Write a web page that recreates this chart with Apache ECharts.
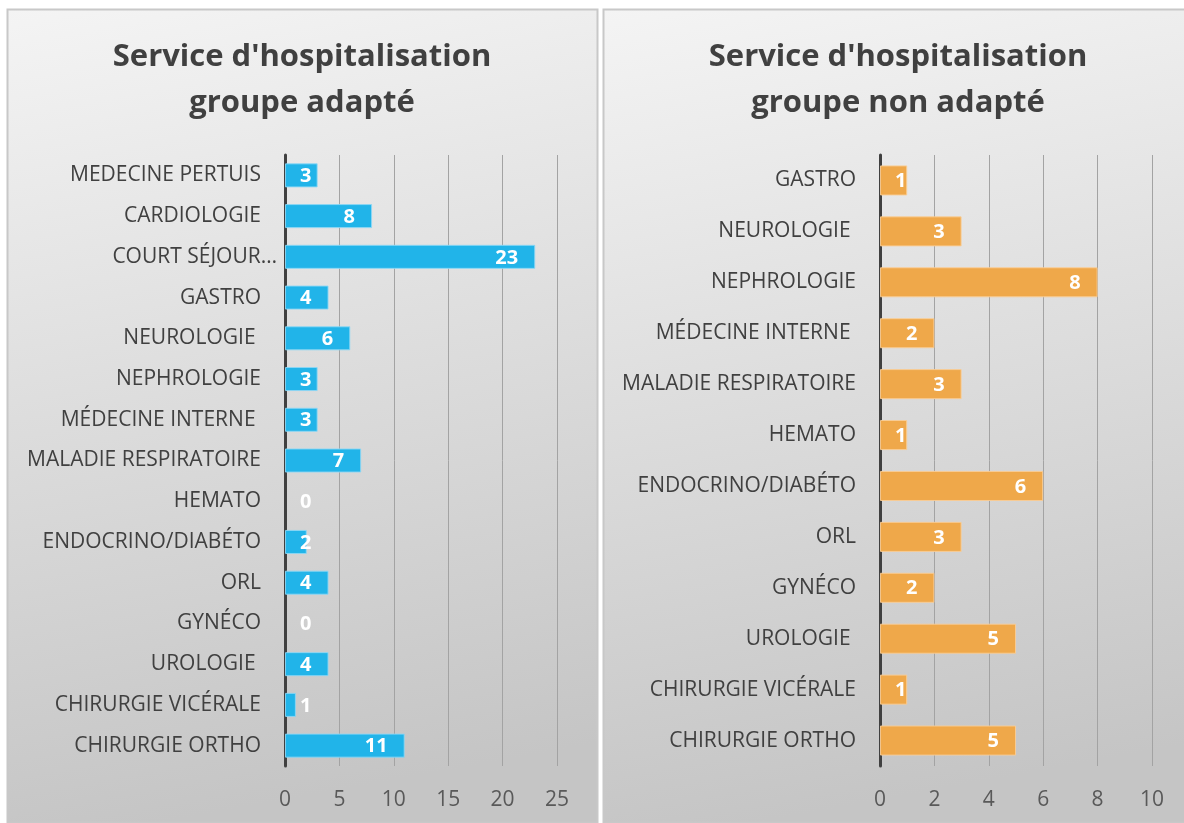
<!DOCTYPE html>
<html>
<head>
<meta charset="utf-8">
<script src="https://cdn.jsdelivr.net/npm/echarts@6/dist/echarts.min.js"></script>
<style>
html,body{margin:0;padding:0;background:#ffffff;}
#chart{width:1184px;height:823px;}
</style>
</head>
<body>
<div id="chart"></div>
<script>
// ---- Data ----
const titleLeft = "Service d'hospitalisation\ngroupe adapté";
const titleRight = "Service d'hospitalisation\ngroupe non adapté";

const categoriesLeft = [
  'MEDECINE PERTUIS', 'CARDIOLOGIE', 'COURT SÉJOUR…', 'GASTRO', 'NEUROLOGIE ',
  'NEPHROLOGIE', 'MÉDECINE INTERNE ', 'MALADIE RESPIRATOIRE', 'HEMATO',
  'ENDOCRINO/DIABÉTO', 'ORL', 'GYNÉCO', 'UROLOGIE ', 'CHIRURGIE VICÉRALE', 'CHIRURGIE ORTHO'
];
const valuesLeft = [3, 8, 23, 4, 6, 3, 3, 7, 0, 2, 4, 0, 4, 1, 11];

const categoriesRight = [
  'GASTRO', 'NEUROLOGIE ', 'NEPHROLOGIE', 'MÉDECINE INTERNE ', 'MALADIE RESPIRATOIRE',
  'HEMATO', 'ENDOCRINO/DIABÉTO', 'ORL', 'GYNÉCO', 'UROLOGIE ', 'CHIRURGIE VICÉRALE', 'CHIRURGIE ORTHO'
];
const valuesRight = [1, 3, 8, 2, 3, 1, 6, 3, 2, 5, 1, 5];

const ticksLeft = { min: 0, max: 25, interval: 5 };
const ticksRight = { min: 0, max: 10, interval: 2 };

// ---- Styles ----
const FONT = "'Open Sans', 'Noto Sans', sans-serif";
const panelFill = {
  type: 'linear', x: 0, y: 0, x2: 0.25, y2: 1,
  colorStops: [{ offset: 0, color: '#f4f4f4' }, { offset: 1, color: '#c5c5c5' }]
};

function labelLayoutFn(params) {
  const r = params.rect;
  const lr = params.labelRect;
  let x = r.x + r.width - 17 - lr.width;
  x = Math.max(x, r.x + 15);
  return { x: x, y: r.y + r.height / 2 + 1, align: 'left', verticalAlign: 'middle' };
}

function valueAxis(gridIndex, t) {
  return {
    type: 'value', gridIndex: gridIndex, min: t.min, max: t.max, interval: t.interval,
    axisLine: { show: false }, axisTick: { show: false },
    splitLine: { show: true, lineStyle: { color: '#a3a3a3', width: 1 } },
    axisLabel: { color: '#595959', fontFamily: FONT, fontSize: 21, margin: 24 }
  };
}
function catAxis(gridIndex, cats) {
  return {
    type: 'category', gridIndex: gridIndex, inverse: true,
    data: cats.map(c => c.endsWith('…') ? { value: c, textStyle: { padding: [4, -16, 0, 0] } } : c),
    axisLine: { show: true, lineStyle: { color: '#404040', width: 3 } },
    axisTick: { show: false },
    axisLabel: { color: '#404040', fontFamily: FONT, fontSize: 21, margin: 24, padding: [4, 0, 0, 0] }
  };
}
function barSeries(idx, values, color, border) {
  return {
    type: 'bar', xAxisIndex: idx, yAxisIndex: idx,
    data: values.map(v => v === 0 ? { value: v, itemStyle: { borderWidth: 0 } } : v),
    barCategoryGap: '41%',
    itemStyle: { color: color, borderColor: border, borderWidth: 1 },
    label: { show: true, position: 'insideRight', color: '#ffffff', fontFamily: FONT, fontWeight: 'bold', fontSize: 20 },
    labelLayout: labelLayoutFn
  };
}

const chart = echarts.init(document.getElementById('chart'));
chart.setOption({
  backgroundColor: '#ffffff',
  animation: false,
  graphic: [
    { type: 'rect', z: -10, shape: { x: 7.5, y: 9.5, width: 590, height: 813 },
      style: { fill: panelFill, stroke: '#c8c8c8', lineWidth: 2 } },
    { type: 'rect', z: -10, shape: { x: 603.5, y: 9.5, width: 592, height: 813 },
      style: { fill: panelFill, stroke: '#c8c8c8', lineWidth: 2 } }
  ],
  title: [
    { text: titleLeft, left: 297, top: 29, textAlign: 'center',
      textStyle: { fontFamily: FONT, fontWeight: 'bold', fontSize: 31, color: '#404040', lineHeight: 46 } },
    { text: titleRight, left: 893, top: 29, textAlign: 'center',
      textStyle: { fontFamily: FONT, fontWeight: 'bold', fontSize: 31, color: '#404040', lineHeight: 46 } }
  ],
  grid: [
    { left: 285, right: 627, top: 155, bottom: 57, containLabel: false },
    { left: 880, right: 32, top: 155, bottom: 57, containLabel: false }
  ],
  xAxis: [valueAxis(0, ticksLeft), valueAxis(1, ticksRight)],
  yAxis: [catAxis(0, categoriesLeft), catAxis(1, categoriesRight)],
  series: [
    barSeries(0, valuesLeft, '#21b4e9', 'rgba(140,215,245,0.9)'),
    barSeries(1, valuesRight, '#efa84a', 'rgba(250,205,150,0.9)')
  ]
});
</script>
</body>
</html>
